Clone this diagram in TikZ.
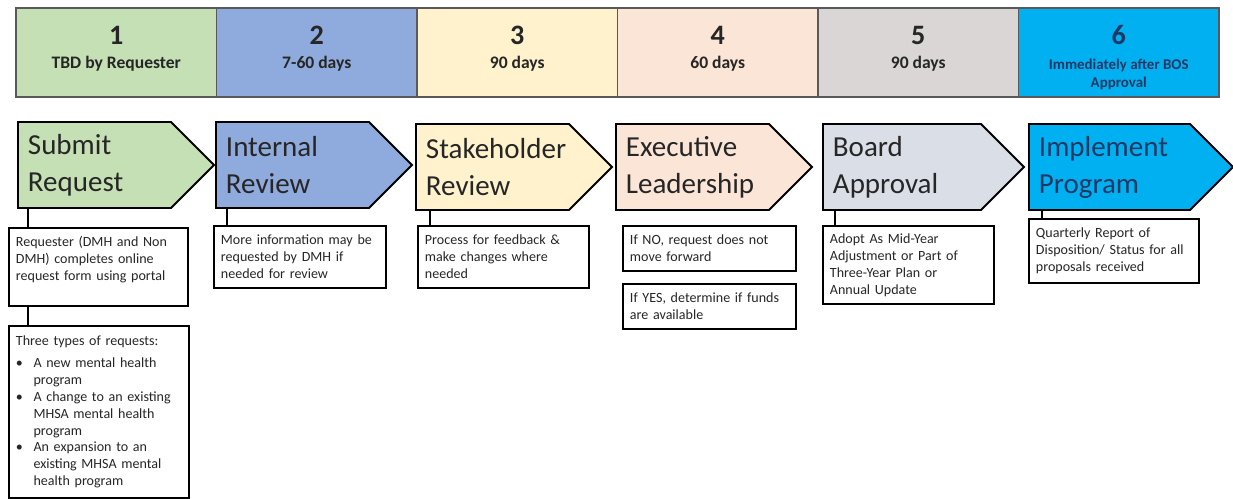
\documentclass[tikz,border=0pt]{standalone}
\usepackage{fontspec}
\setmainfont{Carlito}
\usepackage{enumitem}
\usetikzlibrary{positioning, shapes.symbols}
\definecolor{subgreen}{HTML}{C5E0B4}
\definecolor{revblue}{HTML}{8FAADC}
\definecolor{stakeyellow}{HTML}{FFF2CC}
\definecolor{execpeach}{HTML}{FBE5D6}
\definecolor{boardgrey}{HTML}{DAD6D6}
\definecolor{boardblue}{HTML}{DADEE6}
\definecolor{implcyan}{HTML}{00B0F0}
\definecolor{navytext}{HTML}{1F3864}
\definecolor{darktext}{HTML}{262626}
\newcommand{\phasenum}[1]{{\fontsize{16}{16}\selectfont #1}\\[2pt]}
\newcommand{\phasestrut}{\rule[-6pt]{0pt}{0pt}}

\begin{document}
\begin{tikzpicture}[x=0.02cm, y=-0.02cm,
  phase/.style={draw=black!65, line width=0.6pt, minimum width=4.01cm, minimum height=1.78cm,
    align=center, inner sep=0pt, text=darktext, font=\bfseries\fontsize{10}{12}\selectfont},
  chev/.style={signal, signal to=east, signal pointer angle=90, draw, line width=1.1pt,
    minimum height=1.72cm, text width=2.66cm, inner xsep=0.2cm, align=left, anchor=west,
    text=darktext, font=\fontsize{16.5}{21}\selectfont},
  note/.style={draw, line width=1.1pt, anchor=north west, align=left, inner xsep=0.14cm,
    inner ysep=0.08cm, text=darktext, font=\fontsize{8}{9.6}\selectfont},
  stem/.style={line width=1.1pt}
]
  \useasboundingbox (0,0) rectangle (1233,499);

  % Timeline
  \node[phase, fill=subgreen] (t1) at (116.25,52.5) {\phasenum{1}TBD by Requester\phasestrut};
  \node[phase, fill=revblue] (t2) at (316.75,52.5) {\phasenum{2}7-60 days\phasestrut};
  \node[phase, fill=stakeyellow] (t3) at (517.25,52.5) {\phasenum{3}90 days\phasestrut};
  \node[phase, fill=execpeach] (t4) at (717.75,52.5) {\phasenum{4}60 days\phasestrut};
  \node[phase, fill=boardgrey] (t5) at (918.25,52.5) {\phasenum{5}90 days\phasestrut};
  \node[phase, fill=implcyan, text=navytext] (t6) at (1118.75,52.5)
    {\phasenum{6}\smash{\fontsize{8.5}{10.5}\selectfont\begin{tabular}[t]{@{}c@{}}Immediately after BOS\\Approval\end{tabular}}\phasestrut};

  % Steps
  \node[chev, fill=subgreen] (subreq) at (17,165) {Submit\\Request};
  \node[chev, fill=revblue] (intrev) at (215,165) {Internal\\Review};
  \node[chev, fill=stakeyellow] (stakerev) at (415,167) {Stakeholder\\Review};
  \node[chev, fill=execpeach] (execlead) at (615,167) {Executive\\Leadership};
  \node[chev, fill=boardblue, text width=2.76cm] (boardapp) at (822,167) {Board\\Approval};
  \node[chev, fill=implcyan, text=navytext, text width=2.82cm] (implprog) at (1028,167) {Implement\\Program};

  % Notes
  \node[note, text width=3.30cm, minimum height=1.56cm] (subnote) at (8,227)
    {Requester (DMH and Non\\DMH) completes online\\request form using portal\\\mbox{}};
  \node[note, text width=3.32cm, minimum height=3.44cm] (subtypes) at (8,325)
    {Three types of requests:
     \begin{itemize}[leftmargin=10pt, labelsep=6pt, itemsep=0pt, parsep=0pt, topsep=3pt, partopsep=0pt, label=\textbullet]
     \item A new mental health\newline program
     \item A change to an existing\newline MHSA mental health\newline program
     \item An expansion to an\newline existing MHSA mental\newline health program
     \end{itemize}};
  \node[note, text width=3.16cm, minimum height=1.24cm] (intnote) at (213,225)
    {More information may be\\requested by DMH if\\needed for review};
  \node[note, text width=3.14cm, minimum height=1.24cm] (stakenote) at (417,225)
    {Process for feedback \&\\make changes where\\needed};
  \node[note, text width=3.18cm, minimum height=0.9cm] (execno) at (622,225)
    {If NO, request does not\\move forward};
  \node[note, text width=3.18cm, minimum height=0.9cm] (execyes) at (622,283)
    {If YES, determine if funds\\are available};
  \node[note, text width=3.14cm, minimum height=1.56cm] (boardnote) at (822,225)
    {Adopt As Mid-Year\\Adjustment or Part of\\Three-Year Plan or\\Annual Update};
  \node[note, text width=3.12cm, minimum height=1.28cm] (implnote) at (1028,218)
    {Quarterly Report of\\Disposition/ Status for all\\proposals received};

  % Stems
  \draw[stem] ([xshift=0.22cm]subreq.west |- subreq.south) -- ([xshift=0.22cm]subreq.west |- subnote.north);
  \draw[stem] ([xshift=0.22cm]subreq.west |- subnote.south) -- ([xshift=0.22cm]subreq.west |- subtypes.north);
  \draw[stem] ([xshift=0.24cm]intrev.west |- intrev.south) -- ([xshift=0.24cm]intrev.west |- intnote.north);
  \draw[stem] ([xshift=0.3cm]stakerev.west |- stakerev.south) -- ([xshift=0.3cm]stakerev.west |- stakenote.north);
  \draw[stem] ([xshift=0.26cm]boardapp.west |- boardapp.south) -- ([xshift=0.26cm]boardapp.west |- boardnote.north);
  \draw[stem] ([xshift=0.28cm]implprog.west |- implprog.south) -- ([xshift=0.28cm]implprog.west |- implnote.north);
\end{tikzpicture}
\end{document}
